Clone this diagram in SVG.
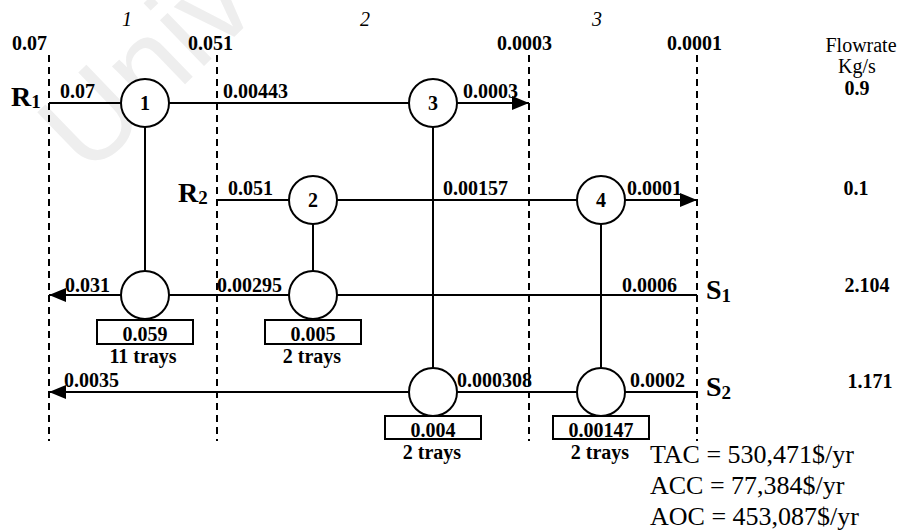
<svg xmlns="http://www.w3.org/2000/svg" width="906" height="531" viewBox="0 0 906 531">
<style>
  .b{font-family:"Liberation Serif","Times New Roman",serif;font-weight:bold;font-size:20px;fill:#000}
  .r{font-family:"Liberation Serif","Times New Roman",serif;font-size:20px;fill:#000}
  .it{font-family:"Liberation Serif","Times New Roman",serif;font-style:italic;font-size:20px;fill:#000}
  .big{font-family:"Liberation Serif","Times New Roman",serif;font-weight:bold;font-size:28px;fill:#000}
  .sub{font-size:19px}
  .cost{font-family:"Liberation Serif","Times New Roman",serif;font-size:26px;fill:#000}
  .dash{stroke:#000;stroke-width:2;stroke-dasharray:7 5;fill:none}
  .ln{stroke:#000;stroke-width:2;fill:none}
  .node{fill:#fff;stroke:#000;stroke-width:2}
  .box{fill:#fff;stroke:#000;stroke-width:2}
  .wm{font-family:"Liberation Sans",Arial,sans-serif;font-size:120px;fill:#eeeeee}
</style>
<defs>
  <marker id="arr" markerUnits="userSpaceOnUse" markerWidth="18" markerHeight="16" viewBox="0 0 18 16" refX="17" refY="8" orient="auto">
    <polygon points="0,1 17,8 0,15" fill="#000"/>
  </marker>
</defs>
<rect width="906" height="531" fill="#fff"/>
<text class="wm" transform="translate(88,178) rotate(-44)">Univer</text>

<g id="intervals">
  <line class="dash" x1="49" y1="55" x2="49" y2="441"/>
  <line class="dash" x1="217" y1="55" x2="217" y2="441"/>
  <line class="dash" x1="529" y1="55" x2="529" y2="441"/>
  <line class="dash" x1="697" y1="55" x2="697" y2="441"/>
  <text class="it" x="122" y="26">1</text>
  <text class="it" x="360" y="26">2</text>
  <text class="it" x="592" y="26">3</text>
  <text class="b" x="12" y="50">0.07</text>
  <text class="b" x="188" y="50">0.051</text>
  <text class="b" x="497" y="50">0.0003</text>
  <text class="b" x="667" y="50">0.0001</text>
</g>

<g id="connectors">
  <line class="ln" x1="49" y1="103" x2="121" y2="103"/>
  <line class="ln" x1="169" y1="103" x2="409" y2="103"/>
  <line class="ln" x1="457" y1="103" x2="529" y2="103" marker-end="url(#arr)"/>
  <line class="ln" x1="217" y1="200" x2="289" y2="200"/>
  <line class="ln" x1="337" y1="200" x2="577" y2="200"/>
  <line class="ln" x1="625" y1="200" x2="697" y2="200" marker-end="url(#arr)"/>
  <line class="ln" x1="697" y1="295" x2="337" y2="295"/>
  <line class="ln" x1="289" y1="295" x2="169" y2="295"/>
  <line class="ln" x1="121" y1="295" x2="49" y2="295" marker-end="url(#arr)"/>
  <line class="ln" x1="697" y1="392" x2="625" y2="392"/>
  <line class="ln" x1="577" y1="392" x2="457" y2="392"/>
  <line class="ln" x1="409" y1="392" x2="49" y2="392" marker-end="url(#arr)"/>
  <line class="ln" x1="145" y1="127" x2="145" y2="271"/>
  <line class="ln" x1="313" y1="224" x2="313" y2="271"/>
  <line class="ln" x1="433" y1="127" x2="433" y2="368"/>
  <line class="ln" x1="601" y1="224" x2="601" y2="368"/>
  <text class="b" x="60" y="98">0.07</text>
  <text class="b" x="223" y="98">0.00443</text>
  <text class="b" x="463" y="98">0.0003</text>
  <text class="b" x="228" y="195">0.051</text>
  <text class="b" x="443" y="195">0.00157</text>
  <text class="b" x="627" y="195">0.0001</text>
  <text class="b" x="65" y="292">0.031</text>
  <text class="b" x="217" y="292">0.00295</text>
  <text class="b" x="622" y="292">0.0006</text>
  <text class="b" x="64" y="387">0.0035</text>
  <text class="b" x="457" y="387">0.000308</text>
  <text class="b" x="630" y="387">0.0002</text>
</g>

<g id="streams">
  <text class="big" x="11" y="106">R<tspan class="sub" dy="2">1</tspan></text>
  <text class="big" x="178" y="202">R<tspan class="sub" dy="2">2</tspan></text>
  <text class="big" x="706" y="299">S<tspan class="sub" dy="3">1</tspan></text>
  <text class="big" x="706" y="396">S<tspan class="sub" dy="3">2</tspan></text>
</g>

<g id="flowrates">
  <text class="r" x="861" y="52" text-anchor="middle">Flowrate</text>
  <text class="r" x="857" y="73" text-anchor="middle">Kg/s</text>
  <text class="b" x="857" y="95" text-anchor="middle">0.9</text>
  <text class="b" x="856" y="195" text-anchor="middle">0.1</text>
  <text class="b" x="867" y="292" text-anchor="middle">2.104</text>
  <text class="b" x="870" y="388" text-anchor="middle">1.171</text>
</g>

<g id="node1"><circle class="node" cx="145" cy="103" r="24"/><text class="b" x="145" y="110" text-anchor="middle">1</text></g>
<g id="node3"><circle class="node" cx="433" cy="103" r="24"/><text class="b" x="433" y="110" text-anchor="middle">3</text></g>
<g id="node2"><circle class="node" cx="313" cy="200" r="24"/><text class="b" x="313" y="207" text-anchor="middle">2</text></g>
<g id="node4"><circle class="node" cx="601" cy="200" r="24"/><text class="b" x="601" y="207" text-anchor="middle">4</text></g>

<g id="heater1">
  <circle class="node" cx="145" cy="295" r="24"/>
  <rect class="box" x="97" y="320" width="96" height="24"/>
  <text class="b" x="145" y="341" text-anchor="middle">0.059</text>
  <text class="b" x="143" y="363" text-anchor="middle">11 trays</text>
</g>
<g id="heater2">
  <circle class="node" cx="313" cy="295" r="24"/>
  <rect class="box" x="265" y="320" width="96" height="24"/>
  <text class="b" x="313" y="341" text-anchor="middle">0.005</text>
  <text class="b" x="312" y="363" text-anchor="middle">2 trays</text>
</g>
<g id="heater3">
  <circle class="node" cx="433" cy="392" r="24"/>
  <rect class="box" x="385" y="416" width="96" height="23"/>
  <text class="b" x="433" y="437" text-anchor="middle">0.004</text>
  <text class="b" x="432" y="459" text-anchor="middle">2 trays</text>
</g>
<g id="heater4">
  <circle class="node" cx="601" cy="392" r="24"/>
  <rect class="box" x="553" y="416" width="96" height="23"/>
  <text class="b" x="601" y="437" text-anchor="middle">0.00147</text>
  <text class="b" x="600" y="459" text-anchor="middle">2 trays</text>
</g>

<g id="costs">
  <text class="cost" x="650" y="463">TAC = 530,471$/yr</text>
  <text class="cost" x="650" y="494">ACC = 77,384$/yr</text>
  <text class="cost" x="650" y="525">AOC = 453,087$/yr</text>
</g>
</svg>
